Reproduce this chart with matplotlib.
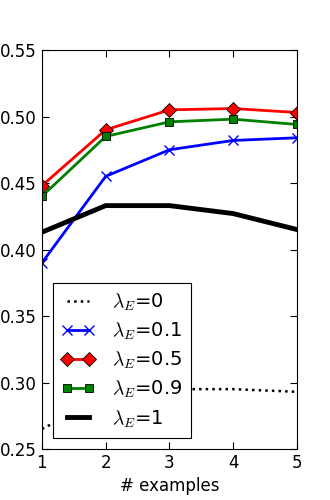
import numpy as np
import matplotlib
matplotlib.use('Agg')
import matplotlib.pyplot as plt

n_examples = [1, 2, 3, 4, 5]

acc_l0   = [0.265, 0.290, 0.295, 0.295, 0.293]
acc_l01  = [0.390, 0.455, 0.475, 0.482, 0.484]
acc_l05  = [0.448, 0.490, 0.505, 0.506, 0.503]
acc_l09  = [0.440, 0.485, 0.496, 0.498, 0.494]
acc_l1   = [0.413, 0.433, 0.433, 0.427, 0.415]

labels = [r'$\lambda_E$=0', r'$\lambda_E$=0.1', r'$\lambda_E$=0.5',
          r'$\lambda_E$=0.9', r'$\lambda_E$=1']

plt.rcParams['mathtext.fontset'] = 'cm'
plt.rcParams['xtick.direction'] = 'in'
plt.rcParams['ytick.direction'] = 'in'
plt.rcParams['xtick.top'] = True
plt.rcParams['ytick.right'] = True

fig = plt.figure(figsize=(3.3, 5.0), dpi=100)
ax = fig.add_axes([0.127, 0.102, 0.773, 0.798])

ax.plot(n_examples, acc_l0, c='k', ls=':', lw=1.8, label=labels[0])
ax.plot(n_examples, acc_l01, c='b', lw=2, marker='x', ms=7, mew=1,
        mec='b', label=labels[1])
ax.plot(n_examples, acc_l05, c='r', lw=2, marker='D', ms=7,
        mec='k', mew=0.6, label=labels[2])
ax.plot(n_examples, acc_l09, c='g', lw=2, marker='s', ms=6,
        mec='k', mew=0.6, label=labels[3])
ax.plot(n_examples, acc_l1, c='k', lw=3.5, label=labels[4])

ax.set_xlim(1, 5)
ax.set_ylim(0.25, 0.55)
ax.set_xticks([1, 2, 3, 4, 5])
ax.set_yticks(np.arange(0.25, 0.551, 0.05))
ax.set_yticklabels(['0.25', '0.30', '0.35', '0.40', '0.45', '0.50', '0.55'])
ax.tick_params(labelsize=12, length=5, width=0.8)
ax.set_xlabel('# examples', fontsize=12)

leg = ax.legend(loc='lower left', fontsize=14, frameon=True, fancybox=False,
                edgecolor='k', framealpha=1, handlelength=1.7, numpoints=2,
                handletextpad=0.9, borderaxespad=0.55, labelspacing=0.4,
                borderpad=0.45)
leg.get_frame().set_linewidth(0.8)

plt.savefig('out.png', dpi=100)
plt.close()
